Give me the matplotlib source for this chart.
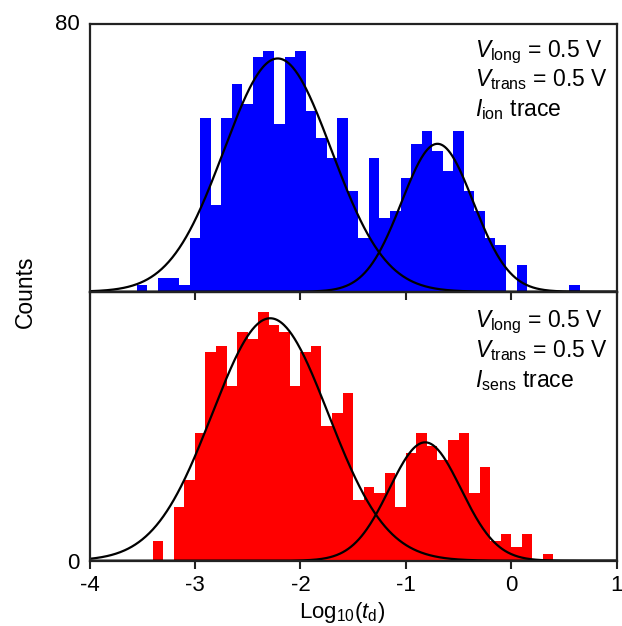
import numpy as np
import matplotlib
matplotlib.use("Agg")
import matplotlib.pyplot as plt

plt.rcParams["font.family"] = ["Liberation Sans", "DejaVu Sans"]
plt.rcParams["mathtext.fontset"] = "custom"
plt.rcParams["mathtext.rm"] = "Liberation Sans"
plt.rcParams["mathtext.it"] = "Liberation Sans:italic"
plt.rcParams["mathtext.bf"] = "Liberation Sans:bold"

# Ionic-current trace: bin centres (log10 dwell time) and counts
ion_centers = [-3.5, -3.4, -3.3, -3.2, -3.1, -3.0, -2.9, -2.8, -2.7, -2.6,
               -2.5, -2.4, -2.3, -2.2, -2.1, -2.0, -1.9, -1.8, -1.7, -1.6,
               -1.5, -1.4, -1.3, -1.2, -1.1, -1.0, -0.9, -0.8, -0.7, -0.6,
               -0.5, -0.4, -0.3, -0.2, -0.1, 0.0, 0.1, 0.2, 0.3, 0.4,
               0.5, 0.6]
ion_counts = [2, 0, 4, 4, 2, 16, 52, 26, 52, 62,
              56, 70, 72, 50, 70, 72, 54, 46, 40, 52,
              30, 16, 40, 22, 24, 34, 44, 48, 42, 36,
              48, 30, 24, 16, 14, 0, 8, 0, 0, 0,
              0, 2]

# Sensor trace: bin left edges and counts
sens_edges = [-3.4, -3.3, -3.2, -3.1, -3.0, -2.9, -2.8, -2.7, -2.6, -2.5,
              -2.4, -2.3, -2.2, -2.1, -2.0, -1.9, -1.8, -1.7, -1.6, -1.5,
              -1.4, -1.3, -1.2, -1.1, -1.0, -0.9, -0.8, -0.7, -0.6, -0.5,
              -0.4, -0.3, -0.2, -0.1, 0.0, 0.1, 0.2, 0.3]
sens_counts = [6, 0, 16, 24, 38, 62, 64, 52, 68, 66,
               74, 70, 68, 52, 62, 64, 40, 44, 50, 18,
               22, 20, 26, 16, 32, 38, 34, 30, 36, 38,
               20, 28, 6, 8, 4, 8, 0, 2]

# Two-population Gaussian fits: (amplitude, centre, sigma)
ion_fits = [(69.7, -2.215, 0.51), (44.2, -0.70, 0.34)]
sens_fits = [(72.1, -2.286, 0.55), (35.2, -0.817, 0.34)]

bin_width = 0.1
x_ticks = [-4, -3, -2, -1, 0, 1]

fig = plt.figure(figsize=(6.22, 6.26), dpi=100)
left, right = 89.5 / 622, 616.7 / 622
y_top, y_mid, y_bot = 1 - 24 / 626, 1 - 291.7 / 626, 1 - 560.7 / 626
ax_ion = fig.add_axes([left, y_mid, right - left, y_top - y_mid])
ax_sens = fig.add_axes([left, y_bot, right - left, y_mid - y_bot])
ax_sens.set_facecolor("none")

ax_ion.bar(ion_centers, ion_counts, width=bin_width, align="center",
           color="#0000ff", linewidth=0)
ax_sens.bar(sens_edges, sens_counts, width=bin_width, align="edge",
            color="#ff0000", linewidth=0)

xs = np.linspace(-4, 1, 600)
for ax, fits in ((ax_ion, ion_fits), (ax_sens, sens_fits)):
    for amp, mu, sig in fits:
        ax.plot(xs, amp * np.exp(-(xs - mu) ** 2 / (2 * sig ** 2)),
                color="black", lw=1.6)

frame = "#222222"
for ax in (ax_ion, ax_sens):
    ax.set_xlim(-4, 1)
    ax.set_ylim(0, 80)
    ax.set_xticks(x_ticks)
    for sp in ax.spines.values():
        sp.set_linewidth(1.6)
        sp.set_color(frame)
    ax.tick_params(axis="x", direction="out", length=6, width=1.5,
                   color=frame, labelsize=16, pad=4)
    ax.tick_params(axis="y", length=0, labelsize=16, pad=7)

ax_ion.set_yticks([80])
ax_ion.set_yticklabels(["80"], va="center")
ax_ion.tick_params(axis="x", labelbottom=False)
ax_sens.set_yticks([0])
ax_sens.set_xticklabels([str(t) for t in x_ticks])

ax_sens.set_xlabel(r"Log$_{10}$($t_{\mathrm{d}}$)", fontsize=16, labelpad=3)
ax_sens.xaxis.label.set_x(0.479)
fig.text(0.04, y_mid, "Counts", rotation=90, fontsize=16.5,
         ha="center", va="center")

txt_kw = dict(fontsize=16.5, ha="left", va="baseline")
ax_ion.text(0.731, 0.8775, r"$V_{\mathrm{long}}$ = 0.5 V",
            transform=ax_ion.transAxes, **txt_kw)
ax_ion.text(0.731, 0.768, r"$V_{\mathrm{trans}}$ = 0.5 V",
            transform=ax_ion.transAxes, **txt_kw)
ax_ion.text(0.731, 0.655, r"$I_{\mathrm{ion}}$ trace",
            transform=ax_ion.transAxes, **txt_kw)

ax_sens.text(0.731, 0.870, r"$V_{\mathrm{long}}$ = 0.5 V",
             transform=ax_sens.transAxes, **txt_kw)
ax_sens.text(0.731, 0.758, r"$V_{\mathrm{trans}}$ = 0.5 V",
             transform=ax_sens.transAxes, **txt_kw)
ax_sens.text(0.731, 0.647, r"$I_{\mathrm{sens}}$ trace",
             transform=ax_sens.transAxes, **txt_kw)

fig.savefig("out.png", dpi=100)
